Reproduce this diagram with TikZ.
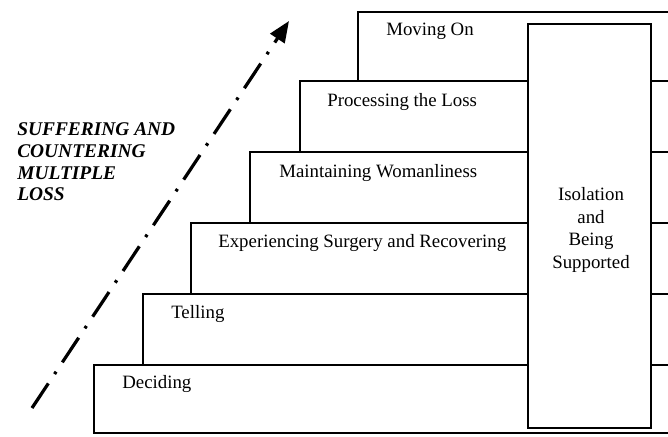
\documentclass[tikz,border=0pt]{standalone}
\usepackage{fontspec}
\setmainfont{Liberation Serif}
\usetikzlibrary{arrows.meta}
\tikzset{
  stepline/.style={line width=1.1pt},
  steplabel/.style={anchor=west,inner sep=0pt,font=\fontsize{13.4}{16}\selectfont},
  sidelabel/.style={anchor=north west,inner sep=0pt,align=left,font=\fontsize{13.8}{15.6}\selectfont\bfseries\itshape},
  boxlabel/.style={inner sep=0pt,align=center,font=\fontsize{13.4}{16}\selectfont}
}
\begin{document}
\begin{tikzpicture}[x=0.025cm,y=-0.025cm]
                                    \def\xr{680};\def\yb{433};
                                    \useasboundingbox (0,0) rectangle (668,436);
                                    \clip (0,0) rectangle (668,436);
% steps
                                    \draw[stepline] (358,12) rectangle (\xr,81);
                                    \draw[stepline] (300,81) rectangle (\xr,152);
                                    \draw[stepline] (250,152) rectangle (\xr,223);
                                    \draw[stepline] (191,223) rectangle (\xr,294);
                                    \draw[stepline] (143,294) rectangle (\xr,365);
                                    \draw[stepline] (94,365) rectangle (\xr,\yb);
                                    \node[steplabel] (moving) at (386,31) {Moving On};
                                    \node[steplabel] (processing) at (327,102) {Processing the Loss};
                                    \node[steplabel] (maintaining) at (279,173) {Maintaining Womanliness};
                                    \node[steplabel] (experiencing) at (218,243) {Experiencing Surgery and Recovering};
                                    \node[steplabel] (telling) at (171,314) {Telling};
                                    \node[steplabel] (deciding) at (122,384) {Deciding};

% isolation box
                                    \draw[stepline,fill=white] (528,24) rectangle (651,428);
                                    \node[boxlabel] (isolation) at (591,230) {Isolation\\and\\Being\\Supported};

% arrow
                                    \coordinate (low) at (32,408);
                                    \coordinate (high) at (289,21);
                                    \draw[line width=2.3pt,dash pattern=on 21pt off 8pt on 2pt off 8pt,-{Triangle[length=15pt,width=12pt]}] (low) -- (high);
                                    \node[sidelabel] (suffering) at (17,122) {SUFFERING AND\\COUNTERING\\MULTIPLE\\LOSS};

                                \end{tikzpicture}
\end{document}
